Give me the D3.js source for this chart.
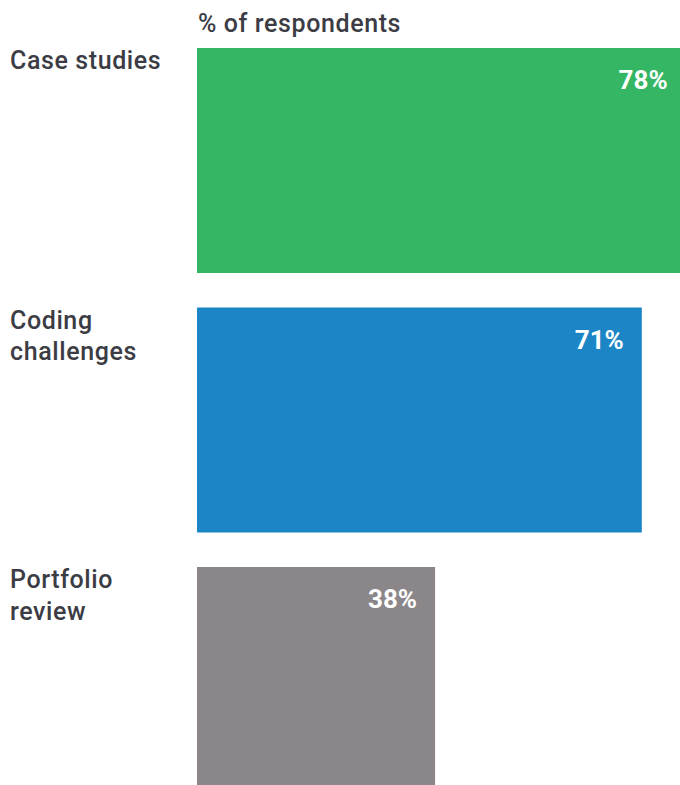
<!DOCTYPE html>
<html><head><meta charset="utf-8">
<script src="https://cdn.jsdelivr.net/npm/d3@7"></script>
<style>
html,body{margin:0;padding:0;background:#fff;overflow:hidden;}
text{font-family:Roboto,"Noto Sans",sans-serif;}
</style></head>
<body>
<svg id="chart" width="680" height="785"></svg>
<script>
const categories = [["Case studies"], ["Coding", "challenges"], ["Portfolio", "review"]];
const values = [78, 71, 38];
const colors = ["#35b664", "#1b85c6", "#8b8689"];
const axisTitle = "% of respondents";

const svg = d3.select("#chart");
const x = d3.scaleLinear().domain([0, 100]).range([197, 823.5]);
const y = d3.scaleBand().domain(d3.range(values.length)).range([48, 792]).paddingInner(0.133).paddingOuter(0);

const data = values.map((v, i) => ({v, i, label: categories[i], color: colors[i]}));

svg.append("text").attr("x", 198).attr("y", 31.5).attr("font-size", 25).attr("font-weight", 500)
  .attr("letter-spacing", 0.6).attr("fill", "#3c3c44").text(axisTitle);

const g = svg.selectAll("g.row").data(data).join("g").attr("class", "row");
g.append("rect").attr("x", x(0)).attr("y", d => y(d.i))
  .attr("width", d => x(d.v) - x(0)).attr("height", y.bandwidth()).attr("fill", d => d.color);
g.append("text").attr("x", d => x(d.v) - 18).attr("y", d => y(d.i) + 41)
  .attr("text-anchor", "end").attr("font-size", 26).attr("font-weight", 700).attr("fill", "#fff")
  .text(d => d.v + "%");
const lab = g.append("text").attr("font-size", 25).attr("font-weight", 500).attr("letter-spacing", 0.6).attr("fill", "#3c3c44");
lab.selectAll("tspan").data(d => d.label.map(t => ({t, d}))).join("tspan")
  .attr("x", 10).attr("y", (e, j) => y(e.d.i) + 21 + j * 31.5).text(e => e.t);
</script>
</body></html>
